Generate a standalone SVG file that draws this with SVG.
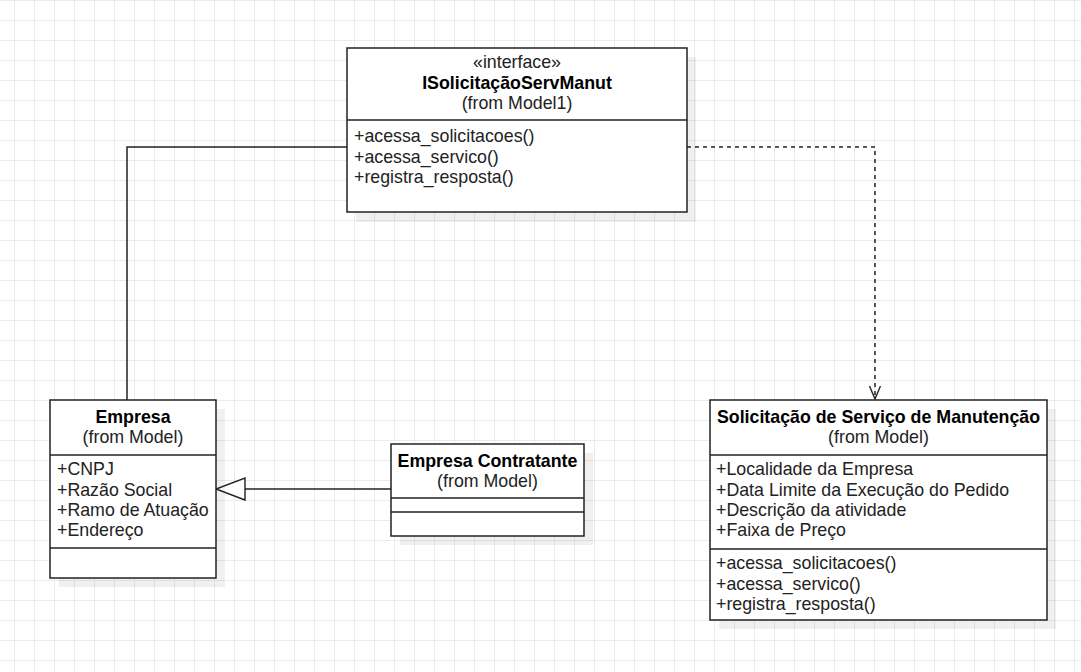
<svg xmlns="http://www.w3.org/2000/svg" width="1081" height="672" viewBox="0 0 1081 672">
<defs>
<pattern id="grid" x="0" y="0" width="20" height="20" patternUnits="userSpaceOnUse">
<path d="M14.5 0V20M0 0.5H20" stroke="#ebebeb" stroke-width="1" fill="none"/>
</pattern>
<marker id="open" markerWidth="14" markerHeight="14" refX="13" refY="6" orient="auto" markerUnits="userSpaceOnUse">
<path d="M0 0.5L13 6L0 11.5" fill="none" stroke="#222" stroke-width="1.4"/>
</marker>
<marker id="tri" markerWidth="32" markerHeight="26" refX="30" refY="12" orient="auto" markerUnits="userSpaceOnUse">
<path d="M1 1L30 12L1 23Z" fill="#fff" stroke="#222" stroke-width="1.4"/>
</marker>
</defs>
<style>
.box{fill:#fff;stroke:#222;stroke-width:1.5}
.sh{fill:#000;fill-opacity:0.06}
.sep{stroke:#222;stroke-width:1.5}
.t{font-family:"Liberation Sans",Arial,sans-serif;font-size:17.8px;fill:#222}
.b{font-weight:bold;fill:#000}
.c{text-anchor:middle}
.ln{fill:none;stroke:#222;stroke-width:1.5}
</style>
<rect width="1081" height="672" fill="#fff"/>
<rect width="1081" height="672" fill="url(#grid)"/>

<g id="connectors">
<path class="ln" d="M347 147H127V400"/>
<path class="ln" d="M687 147H875V399" stroke-dasharray="4 4" marker-end="url(#open)"/>
<path class="ln" d="M391 489H216" marker-end="url(#tri)"/>
</g>

<g id="ISolicitacaoServManut">
<rect class="sh" x="356" y="57" width="340" height="165"/>
<rect class="box" x="347" y="48" width="340" height="164"/>
<line class="sep" x1="347" y1="120" x2="687" y2="120"/>
<text class="t c" x="517" y="68">«interface»</text>
<text class="t b c" x="517" y="89">ISolicitaçãoServManut</text>
<text class="t c" x="517" y="109">(from Model1)</text>
<text class="t" x="354" y="142">+acessa_solicitacoes()</text>
<text class="t" x="354" y="163">+acessa_servico()</text>
<text class="t" x="354" y="183">+registra_resposta()</text>
</g>

<g id="Empresa">
<rect class="sh" x="59" y="409" width="166" height="178"/>
<rect class="box" x="50" y="400" width="166" height="178"/>
<line class="sep" x1="50" y1="455" x2="216" y2="455"/>
<line class="sep" x1="50" y1="548" x2="216" y2="548"/>
<text class="t b c" x="133" y="423">Empresa</text>
<text class="t c" x="133" y="443">(from Model)</text>
<text class="t" x="57" y="475">+CNPJ</text>
<text class="t" x="57" y="496">+Razão Social</text>
<text class="t" x="57" y="516">+Ramo de Atuação</text>
<text class="t" x="57" y="536">+Endereço</text>
</g>

<g id="EmpresaContratante">
<rect class="sh" x="400" y="453" width="193" height="92"/>
<rect class="box" x="391" y="444" width="193" height="92"/>
<line class="sep" x1="391" y1="498" x2="584" y2="498"/>
<line class="sep" x1="391" y1="512" x2="584" y2="512"/>
<text class="t b c" x="487.5" y="467">Empresa Contratante</text>
<text class="t c" x="487.5" y="487">(from Model)</text>
</g>

<g id="SolicitacaoServicoManutencao">
<rect class="sh" x="719" y="409" width="337" height="220"/>
<rect class="box" x="710" y="400" width="337" height="220"/>
<line class="sep" x1="710" y1="455" x2="1047" y2="455"/>
<line class="sep" x1="710" y1="549" x2="1047" y2="549"/>
<text class="t b c" x="878.5" y="423">Solicitação de Serviço de Manutenção</text>
<text class="t c" x="878.5" y="443">(from Model)</text>
<text class="t" x="716" y="475">+Localidade da Empresa</text>
<text class="t" x="716" y="496">+Data Limite da Execução do Pedido</text>
<text class="t" x="716" y="516">+Descrição da atividade</text>
<text class="t" x="716" y="536">+Faixa de Preço</text>
<text class="t" x="716" y="569">+acessa_solicitacoes()</text>
<text class="t" x="716" y="590">+acessa_servico()</text>
<text class="t" x="716" y="610">+registra_resposta()</text>
</g>
</svg>
